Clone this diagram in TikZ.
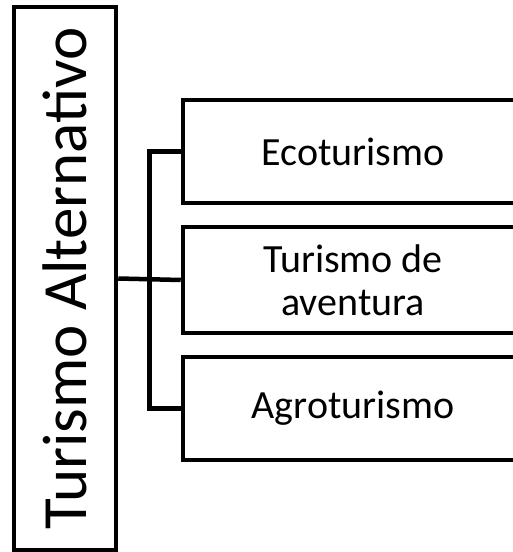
\documentclass[tikz,border=0pt]{standalone}
\usepackage{fontspec}
\setmainfont{Carlito}
\usetikzlibrary{positioning, calc}

\tikzset{
  branchbox/.style={draw, rectangle, line width=4.5pt, minimum width=340pt,
    align=center, font=\fontsize{40}{43}\selectfont},
  rootbox/.style={draw, rectangle, line width=4.5pt, minimum width=102pt, minimum height=543pt},
  link/.style={line width=4.5pt}
}

\begin{document}
\begin{tikzpicture}[x=1pt, y=1pt]
\useasboundingbox (0,0) rectangle (513,552);
\clip (0,0) rectangle (513,552);
\fill[white] (0,0) rectangle (513,552);

% Root box with its vertical title
\node[rootbox] (alt) at (65,273.5) {};
\node[rotate=90, font=\fontsize{63}{63}\selectfont] (alttitle) at (alt.center) {Turismo Alternativo};

% Branches
\node[branchbox, minimum height=103pt] (eco) at (353,400.5) {Ecoturismo};
\node[branchbox, minimum height=106pt] (tur) at (353,272) {Turismo de\\aventura};
\node[branchbox, minimum height=103pt] (agro) at (353,143.5) {Agroturismo};

% Connectors
\coordinate (bus) at ($(alt.east)!0.5!(tur.west)$);
\draw[link] (alt.east) -- (tur.west);
\draw[link] (eco.west) -| (bus) |- (agro.west);
\end{tikzpicture}
\end{document}
